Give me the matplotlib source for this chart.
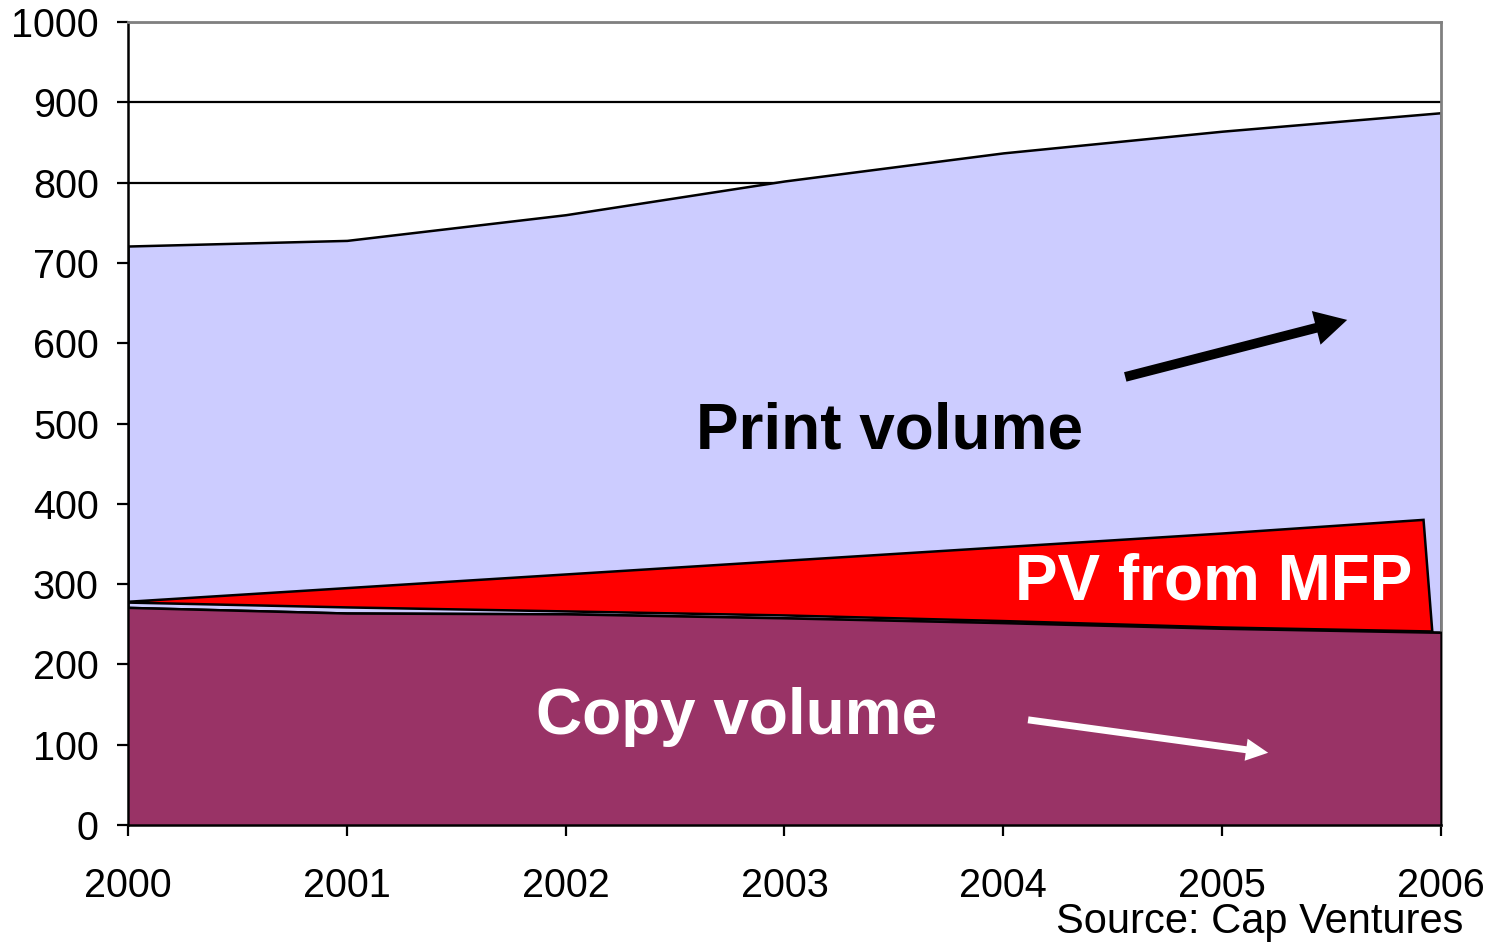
import matplotlib.pyplot as plt

plt.rcParams['font.family'] = ['Liberation Sans', 'DejaVu Sans']

years = [2000, 2001, 2002, 2003, 2004, 2005, 2006]
print_volume = [721, 728, 760, 802, 837, 864, 887]
copy_volume = [271, 264, 263, 258, 252, 245, 240]

# red wedge (PV from MFP), drawn as its own shape
mfp_years = [2000, 2001, 2002, 2003, 2004, 2005, 2005.92, 2005.96]
mfp_top = [278, 295, 312, 329, 346, 363, 380, 241]
mfp_bottom = [277, 271, 266, 261, 254, 246, 241, 241]

fig = plt.figure(figsize=(14.93, 9.43), dpi=100)
ax = fig.add_axes([0.0857, 0.1251, 0.8795, 0.8516])

ax.fill_between(years, copy_volume, print_volume, facecolor='#CCCCFF',
                edgecolor='black', linewidth=1.8, zorder=2)
ax.fill_between(years, 0, copy_volume, facecolor='#993366',
                edgecolor='black', linewidth=1.8, zorder=3)

poly_x = mfp_years + mfp_years[::-1][2:]
poly_y = mfp_top[:-1] + [mfp_bottom[-1]] + mfp_bottom[::-1][2:]
ax.fill(poly_x, poly_y, facecolor='#FF0000', edgecolor='black',
        linewidth=1.8, zorder=4)

ax.set_xlim(2000, 2006)
ax.set_ylim(0, 1000)
ax.set_xticks(years)
ax.set_yticks(range(0, 1001, 100))
ax.yaxis.grid(True, color='black', linewidth=1.6, zorder=1)
ax.set_axisbelow(True)

ax.tick_params(axis='both', direction='out', labelsize=28.5, width=1.6,
               length=8, color='black')
ax.tick_params(axis='x', pad=22)
ax.tick_params(axis='y', pad=13)

for side in ['top', 'right']:
    ax.spines[side].set_color('#808080')
    ax.spines[side].set_linewidth(2)
for side in ['left', 'bottom']:
    ax.spines[side].set_color('black')
    ax.spines[side].set_linewidth(1.8)

ax.text(2003.48, 490, 'Print volume', fontsize=46, fontweight='bold',
        color='black', ha='center', va='center', zorder=6)
ax.text(2004.96, 302, 'PV from MFP', fontsize=46, fontweight='bold',
        color='white', ha='center', va='center', zorder=6)
ax.text(2002.78, 134, 'Copy volume', fontsize=46, fontweight='bold',
        color='white', ha='center', va='center', zorder=6)

ax.annotate('', xy=(2005.571, 629), xytext=(2004.557, 558),
            arrowprops=dict(width=7, headwidth=25, headlength=23,
                            facecolor='black', edgecolor='none', shrink=0),
            zorder=6)
ax.annotate('', xy=(2005.21, 90), xytext=(2004.113, 131),
            arrowprops=dict(width=5, headwidth=16, headlength=16,
                            facecolor='white', edgecolor='none', shrink=0),
            zorder=6)

fig.text(0.98, 0.022, 'Source: Cap Ventures', fontsize=30,
         ha='right', va='center')

fig.savefig('out.png', dpi=100)
